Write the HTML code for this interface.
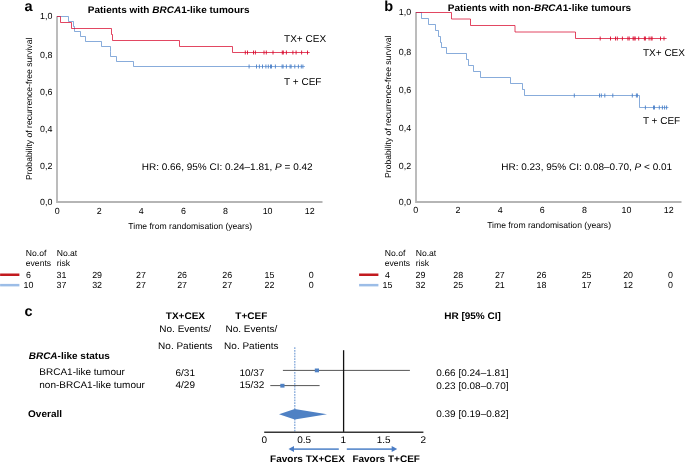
<!DOCTYPE html>
<html><head><meta charset="utf-8"><style>
html,body{margin:0;padding:0;background:#fff;}
body{width:685px;height:462px;overflow:hidden;position:relative;}
svg{position:absolute;left:0;top:0;filter:blur(0.3px);}
text{font-family:"Liberation Sans",sans-serif;fill:#000;text-rendering:geometricPrecision;}
.b{font-weight:bold;}
.t{font-size:8.6px;}
.k{font-size:8.9px;}
.m{font-size:10px;}
</style></head><body>
<svg width="685" height="462" viewBox="0 0 685 462">

<text x="24.4" y="10.6" class="b" font-size="14.5">a</text>
<text x="87.8" y="13.3" transform="matrix(1,0,0,0.96,0,0.532)" class="b m">Patients with <tspan font-style="italic">BRCA</tspan>1-like tumours</text>
<path d="M57,16.2 V202 H322.5" fill="none" stroke="#b5b5b5" stroke-width="1.8"/>
<text x="52.4" y="19.2" class="k" text-anchor="end">1,0</text>
<text x="52.4" y="58.0" class="k" text-anchor="end">0,8</text>
<text x="52.4" y="95.2" class="k" text-anchor="end">0,6</text>
<text x="52.4" y="132.2" class="k" text-anchor="end">0,4</text>
<text x="52.4" y="169.4" class="k" text-anchor="end">0,2</text>
<text x="52.4" y="204.8" class="k" text-anchor="end">0,0</text>
<text x="57.1" y="213.6" class="k" text-anchor="middle">0</text>
<text x="99.2" y="213.6" class="k" text-anchor="middle">2</text>
<text x="141.3" y="213.6" class="k" text-anchor="middle">4</text>
<text x="183.4" y="213.6" class="k" text-anchor="middle">6</text>
<text x="225.5" y="213.6" class="k" text-anchor="middle">8</text>
<text x="267.6" y="213.6" class="k" text-anchor="middle">10</text>
<text x="309.7" y="213.6" class="k" text-anchor="middle">12</text>
<text x="128.3" y="228.6" class="t">Time from randomisation (years)</text>
<text transform="translate(32,180) rotate(-90)" x="0" y="0" class="t">Probability of recurrence-free survival</text>
<path d="M57,16.5 H68.5 V21.5 H73.5 V26.5 H74.5 V31.5 H80.5 V36.5 H85.5 V41.5 H101.5 V46.5 H110.5 V51.5 H110.5 V56.5 H116.5 V61.5 H133.5 V66.5 H304.9" fill="none" stroke="#4a80c8" stroke-width="0.66"/>
<g stroke="#4a80c8" stroke-width="0.9"><line x1="249.1" y1="64.5" x2="249.1" y2="68.5"/><line x1="256.5" y1="64.5" x2="256.5" y2="68.5"/><line x1="259.4" y1="64.5" x2="259.4" y2="68.5"/><line x1="262.5" y1="64.5" x2="262.5" y2="68.5"/><line x1="265.9" y1="64.5" x2="265.9" y2="68.5"/><line x1="268.3" y1="64.5" x2="268.3" y2="68.5"/><line x1="270.5" y1="64.5" x2="270.5" y2="68.5"/><line x1="271.5" y1="64.5" x2="271.5" y2="68.5"/><line x1="275.4" y1="64.5" x2="275.4" y2="68.5"/><line x1="282.1" y1="64.5" x2="282.1" y2="68.5"/><line x1="283.1" y1="64.5" x2="283.1" y2="68.5"/><line x1="286.4" y1="64.5" x2="286.4" y2="68.5"/><line x1="290.1" y1="64.5" x2="290.1" y2="68.5"/><line x1="291.1" y1="64.5" x2="291.1" y2="68.5"/><line x1="294.8" y1="64.5" x2="294.8" y2="68.5"/><line x1="298.4" y1="64.5" x2="298.4" y2="68.5"/><line x1="301.3" y1="64.5" x2="301.3" y2="68.5"/><line x1="302.9" y1="64.5" x2="302.9" y2="68.5"/></g>
<path d="M57,16.5 H60.5 V22.5 H71.5 V28.5 H111.5 V34.5 H112.5 V40.5 H179.5 V46.5 H232.5 V52.5 H309.7" fill="none" stroke="#d80a2e" stroke-width="0.75"/>
<g stroke="#d80a2e" stroke-width="0.9"><line x1="245.3" y1="50.5" x2="245.3" y2="54.5"/><line x1="247.5" y1="50.5" x2="247.5" y2="54.5"/><line x1="253.5" y1="50.5" x2="253.5" y2="54.5"/><line x1="255.4" y1="50.5" x2="255.4" y2="54.5"/><line x1="264" y1="50.5" x2="264" y2="54.5"/><line x1="266.3" y1="50.5" x2="266.3" y2="54.5"/><line x1="273" y1="50.5" x2="273" y2="54.5"/><line x1="282.3" y1="50.5" x2="282.3" y2="54.5"/><line x1="283.3" y1="50.5" x2="283.3" y2="54.5"/><line x1="286.4" y1="50.5" x2="286.4" y2="54.5"/><line x1="292.9" y1="50.5" x2="292.9" y2="54.5"/><line x1="296.1" y1="50.5" x2="296.1" y2="54.5"/><line x1="301.6" y1="50.5" x2="301.6" y2="54.5"/><line x1="307.5" y1="50.5" x2="307.5" y2="54.5"/></g>
<text x="284.1" y="41.9" class="m">TX+ CEX</text>
<text x="284.1" y="84.9" class="m">T + CEF</text>
<text x="141.7" y="170.0" transform="matrix(1,0,0,0.96,0,6.800)" class="m">HR: 0.66, 95% CI: 0.24–1.81, <tspan font-style="italic">P</tspan> = 0.42</text>
<text x="384.3" y="10.6" class="b" font-size="14.5">b</text>
<text x="447.8" y="11.0" transform="matrix(1,0,0,0.96,0,0.440)" class="b m">Patients with non-<tspan font-style="italic">BRCA</tspan>1-like tumours</text>
<path d="M416,12.1 V202 H681.5" fill="none" stroke="#b5b5b5" stroke-width="1.8"/>
<text x="411.1" y="15.3" class="k" text-anchor="end">1,0</text>
<text x="411.1" y="54.8" class="k" text-anchor="end">0,8</text>
<text x="411.1" y="93.2" class="k" text-anchor="end">0,6</text>
<text x="411.1" y="130.7" class="k" text-anchor="end">0,4</text>
<text x="411.1" y="169.1" class="k" text-anchor="end">0,2</text>
<text x="411.1" y="204.8" class="k" text-anchor="end">0,0</text>
<text x="415.8" y="213.0" class="k" text-anchor="middle">0</text>
<text x="457.9" y="213.0" class="k" text-anchor="middle">2</text>
<text x="500.1" y="213.0" class="k" text-anchor="middle">4</text>
<text x="542.2" y="213.0" class="k" text-anchor="middle">6</text>
<text x="584.4" y="213.0" class="k" text-anchor="middle">8</text>
<text x="626.5" y="213.0" class="k" text-anchor="middle">10</text>
<text x="668.7" y="213.0" class="k" text-anchor="middle">12</text>
<text x="487.2" y="227.9" class="t">Time from randomisation (years)</text>
<text transform="translate(390.9,177.9) rotate(-90)" x="0" y="0" class="t">Probability of recurrence-free survival</text>
<path d="M416,12.5 H421.5 V18.5 H428.5 V24.5 H435.5 V30.5 H438.5 V36.5 H440.5 V42.5 H441.5 V47.5 H446.5 V53.5 H466.5 V59.5 H468.5 V65.5 H473.5 V71.5 H480.5 V77.5 H510.5 V83.5 H522.5 V89.5 H524.5 V95.5 H639.5 V107.5 H668.4" fill="none" stroke="#4a80c8" stroke-width="0.66"/>
<g stroke="#4a80c8" stroke-width="0.9"><line x1="574.3" y1="93.5" x2="574.3" y2="97.5"/><line x1="599.5" y1="93.5" x2="599.5" y2="97.5"/><line x1="601.3" y1="93.5" x2="601.3" y2="97.5"/><line x1="604.8" y1="93.5" x2="604.8" y2="97.5"/><line x1="612.8" y1="93.5" x2="612.8" y2="97.5"/><line x1="632.3" y1="93.5" x2="632.3" y2="97.5"/><line x1="636.4" y1="93.5" x2="636.4" y2="97.5"/><line x1="637.4" y1="93.5" x2="637.4" y2="97.5"/><line x1="645.4" y1="105.5" x2="645.4" y2="109.5"/><line x1="653.5" y1="105.5" x2="653.5" y2="109.5"/><line x1="654.5" y1="105.5" x2="654.5" y2="109.5"/><line x1="659.3" y1="105.5" x2="659.3" y2="109.5"/><line x1="662.4" y1="105.5" x2="662.4" y2="109.5"/><line x1="664.6" y1="105.5" x2="664.6" y2="109.5"/><line x1="666.6" y1="105.5" x2="666.6" y2="109.5"/></g>
<path d="M416,12.5 H451.5 V19.0 H470.5 V25.5 H515.0 V32.0 H575.5 V38.5 H666.6" fill="none" stroke="#d80a2e" stroke-width="0.75"/>
<g stroke="#d80a2e" stroke-width="0.9"><line x1="600.2" y1="36.5" x2="600.2" y2="40.5"/><line x1="610.5" y1="36.5" x2="610.5" y2="40.5"/><line x1="615.5" y1="36.5" x2="615.5" y2="40.5"/><line x1="617.3" y1="36.5" x2="617.3" y2="40.5"/><line x1="622.4" y1="36.5" x2="622.4" y2="40.5"/><line x1="627.9" y1="36.5" x2="627.9" y2="40.5"/><line x1="629.2" y1="36.5" x2="629.2" y2="40.5"/><line x1="633.1" y1="36.5" x2="633.1" y2="40.5"/><line x1="634.1" y1="36.5" x2="634.1" y2="40.5"/><line x1="635.2" y1="36.5" x2="635.2" y2="40.5"/><line x1="638.7" y1="36.5" x2="638.7" y2="40.5"/><line x1="644.4" y1="36.5" x2="644.4" y2="40.5"/><line x1="645.4" y1="36.5" x2="645.4" y2="40.5"/><line x1="649.1" y1="36.5" x2="649.1" y2="40.5"/><line x1="651.1" y1="36.5" x2="651.1" y2="40.5"/><line x1="652.1" y1="36.5" x2="652.1" y2="40.5"/><line x1="660.5" y1="36.5" x2="660.5" y2="40.5"/><line x1="664" y1="36.5" x2="664" y2="40.5"/></g>
<text x="643.0" y="55.9" class="m">TX+ CEX</text>
<text x="642.9" y="123.5" class="m">T + CEF</text>
<text x="501.2" y="170.0" transform="matrix(1,0,0,0.96,0,6.800)" class="m">HR: 0.23, 95% CI: 0.08–0.70, <tspan font-style="italic">P</tspan> &lt; 0.01</text>
<text x="25.8" y="255.8" class="t">No.of</text>
<text x="25.8" y="265.7" class="t">events</text>
<text x="56.7" y="255.8" class="t">No.at</text>
<text x="56.7" y="265.7" class="t">risk</text>
<rect x="0.1" y="273.5" width="19.3" height="2.5" fill="#c21a1f"/>
<rect x="0.1" y="283.9" width="19.3" height="2.5" fill="#9cbde7"/>
<text x="28.5" y="277.6" class="k" text-anchor="middle">6</text>
<text x="28.5" y="287.9" class="k" text-anchor="middle">10</text>
<text x="56.6" y="277.6" class="k">31</text>
<text x="56.6" y="287.9" class="k">37</text>
<text x="92.2" y="277.6" class="k">29</text>
<text x="92.2" y="287.9" class="k">32</text>
<text x="136.0" y="277.6" class="k">27</text>
<text x="136.0" y="287.9" class="k">27</text>
<text x="177.2" y="277.6" class="k">26</text>
<text x="177.2" y="287.9" class="k">27</text>
<text x="222.3" y="277.6" class="k">26</text>
<text x="222.3" y="287.9" class="k">27</text>
<text x="264.6" y="277.6" class="k">15</text>
<text x="264.6" y="287.9" class="k">22</text>
<text x="308.8" y="277.6" class="k">0</text>
<text x="308.8" y="287.9" class="k">0</text>
<text x="384.8" y="255.8" class="t">No.of</text>
<text x="384.8" y="265.7" class="t">events</text>
<text x="415.7" y="255.8" class="t">No.at</text>
<text x="415.7" y="265.7" class="t">risk</text>
<rect x="359.1" y="273.5" width="19.3" height="2.5" fill="#c21a1f"/>
<rect x="359.1" y="283.9" width="19.3" height="2.5" fill="#9cbde7"/>
<text x="387.5" y="277.6" class="k" text-anchor="middle">4</text>
<text x="387.5" y="287.9" class="k" text-anchor="middle">15</text>
<text x="415.6" y="277.6" class="k">29</text>
<text x="415.6" y="287.9" class="k">32</text>
<text x="453.3" y="277.6" class="k">28</text>
<text x="453.3" y="287.9" class="k">25</text>
<text x="494.9" y="277.6" class="k">27</text>
<text x="494.9" y="287.9" class="k">21</text>
<text x="536.5" y="277.6" class="k">26</text>
<text x="536.5" y="287.9" class="k">18</text>
<text x="581.7" y="277.6" class="k">25</text>
<text x="581.7" y="287.9" class="k">17</text>
<text x="623.2" y="277.6" class="k">20</text>
<text x="623.2" y="287.9" class="k">12</text>
<text x="668.1" y="277.6" class="k">0</text>
<text x="668.1" y="287.9" class="k">0</text>
<text x="24.4" y="316.1" class="b" font-size="14.5">c</text>
<text x="165.8" y="319.1" transform="matrix(1,0,0,0.96,0,12.764)" class="b m">TX+CEX</text>
<text x="235.3" y="319.1" transform="matrix(1,0,0,0.96,0,12.764)" class="b m">T+CEF</text>
<text x="444.2" y="318.9" transform="matrix(1,0,0,0.96,0,12.756)" class="b m">HR [95% CI]</text>
<text x="159.3" y="332.4" transform="matrix(1,0,0,0.96,0,13.296)" class="m">No. Events/</text>
<text x="225.5" y="332.4" transform="matrix(1,0,0,0.96,0,13.296)" class="m">No. Events/</text>
<text x="158.1" y="348.7" transform="matrix(1,0,0,0.96,0,13.948)" class="m">No. Patients</text>
<text x="224.1" y="348.7" transform="matrix(1,0,0,0.96,0,13.948)" class="m">No. Patients</text>
<text x="28.7" y="358.8" transform="matrix(1,0,0,0.96,0,14.352)" class="b m"><tspan font-style="italic">BRCA</tspan>-like status</text>
<text x="39.3" y="375.4" transform="matrix(1,0,0,0.96,0,15.016)" class="m">BRCA1-like tumour</text>
<text x="39.3" y="388.2" transform="matrix(1,0,0,0.96,0,15.528)" class="m">non-BRCA1-like tumour</text>
<text x="28.1" y="416.8" transform="matrix(1,0,0,0.96,0,16.672)" class="b m">Overall</text>
<text x="175.5" y="375.5" transform="matrix(1,0,0,0.96,0,15.020)" class="m">6/31</text>
<text x="175.5" y="388.4" transform="matrix(1,0,0,0.96,0,15.536)" class="m">4/29</text>
<text x="239.4" y="375.5" transform="matrix(1,0,0,0.96,0,15.020)" class="m">10/37</text>
<text x="239.4" y="388.4" transform="matrix(1,0,0,0.96,0,15.536)" class="m">15/32</text>
<text x="436.2" y="376.1" transform="matrix(1,0,0,0.96,0,15.044)" class="m">0.66 [0.24–1.81]</text>
<text x="436.2" y="388.5" transform="matrix(1,0,0,0.96,0,15.540)" class="m">0.23 [0.08–0.70]</text>
<text x="436.2" y="417.1" transform="matrix(1,0,0,0.96,0,16.684)" class="m">0.39 [0.19–0.82]</text>
<line x1="294.8" y1="347.3" x2="294.8" y2="431.5" stroke="#7aa2d8" stroke-width="1.2" stroke-dasharray="1.6,1.15"/>
<line x1="282.9" y1="370.4" x2="409.9" y2="370.4" stroke="#555" stroke-width="1"/>
<line x1="270.3" y1="385.6" x2="319.6" y2="385.6" stroke="#555" stroke-width="1"/>
<rect x="314.8" y="368.5" width="4.2" height="3.8" fill="#4f81c4"/>
<rect x="280.3" y="383.8" width="4.2" height="3.8" fill="#4f81c4"/>
<path d="M279,414.3 L294.7,408.9 L327,414.3 L294.7,419.4 Z" fill="#4f81c4"/>
<line x1="343.6" y1="350.2" x2="343.6" y2="432" stroke="#111" stroke-width="1.3"/>
<line x1="264.2" y1="432.3" x2="423.4" y2="432.3" stroke="#363636" stroke-width="1.5"/>
<text x="264.3" y="442.6" transform="matrix(1,0,0,0.96,0,17.704)" class="m" text-anchor="middle">0</text>
<text x="304.1" y="442.6" transform="matrix(1,0,0,0.96,0,17.704)" class="m" text-anchor="middle">0.5</text>
<text x="343.2" y="442.6" transform="matrix(1,0,0,0.96,0,17.704)" class="m" text-anchor="middle">1</text>
<text x="383.7" y="442.6" transform="matrix(1,0,0,0.96,0,17.704)" class="m" text-anchor="middle">1.5</text>
<text x="423.2" y="442.6" transform="matrix(1,0,0,0.96,0,17.704)" class="m" text-anchor="middle">2</text>
<line x1="338.8" y1="449.1" x2="293" y2="449.1" stroke="#6592cf" stroke-width="1.6"/>
<path d="M288.5,449.1 L294.0,446.1 L294.0,452.0 Z" fill="#4a7cc4"/>
<line x1="346.8" y1="449.1" x2="392" y2="449.1" stroke="#6592cf" stroke-width="1.6"/>
<path d="M397.2,449.1 L391.7,446.1 L391.7,452.0 Z" fill="#4a7cc4"/>
<text x="270.1" y="461.6" transform="matrix(1,0,0,0.96,0,18.464)" class="b m">Favors TX+CEX</text>
<text x="352.4" y="461.6" transform="matrix(1,0,0,0.96,0,18.464)" class="b m">Favors T+CEF</text>
</svg></body></html>
